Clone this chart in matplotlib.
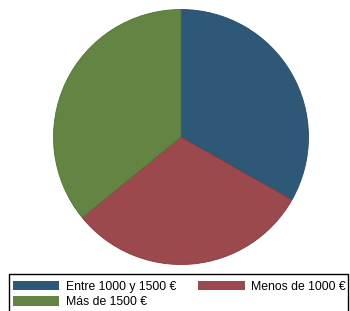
import matplotlib.pyplot as plt
from matplotlib.patches import Rectangle

# Slice shares (percent)
labels = ["Entre 1000 y 1500 €", "Menos de 1000 €", "Más de 1500 €"]
shares = [33.2, 30.9, 35.9]
colors = ["#2e5878", "#9c494e", "#648443"]
edges = ["#274b66", "#85393e", "#55723a"]

plt.rcParams['font.family'] = ['Liberation Sans', 'DejaVu Sans']

W, H = 350, 311
fig = plt.figure(figsize=(W / 100, H / 100), dpi=100)

# Pie axes: centre ~ (181, 137) px, radius ~127.5 px
r = 127.5
ax = fig.add_axes([(181 - r) / W, (H - 137 - r) / H, 2 * r / W, 2 * r / H])
wedges, _ = ax.pie(shares, colors=colors, startangle=90, counterclock=False,
                   radius=1, wedgeprops=dict(linewidth=0.6))
for w, ec in zip(wedges, edges):
    w.set_edgecolor(ec)
ax.set_xlim(-1, 1)
ax.set_ylim(-1, 1)
ax.set_aspect('equal')
ax.axis('off')

# legend box (bottom edge runs off the figure)
fig.patches.append(Rectangle((9 / W, -0.05), 339 / W, 0.05 + (H - 274) / H,
                             transform=fig.transFigure, fill=False,
                             edgecolor='black', linewidth=1.0))

# row-major order like the original: Entre, Menos / Más
order = [0, 2, 1]
fs = 8.8
fpx = fs * 100 / 72
leg = fig.legend([wedges[i] for i in order], [labels[i] for i in order],
                 loc='upper left', ncol=2, mode='expand',
                 bbox_to_anchor=(13 / W, (H - 280.5) / H, 333 / W, 0.0),
                 fontsize=fs, frameon=False, borderaxespad=0, borderpad=0,
                 handlelength=46.5 / fpx, handleheight=10.7 / fpx,
                 handletextpad=6.5 / fpx, labelspacing=0.28)
for h in leg.legend_handles:
    h.set_edgecolor('none')

fig.savefig("out.png", dpi=100)
